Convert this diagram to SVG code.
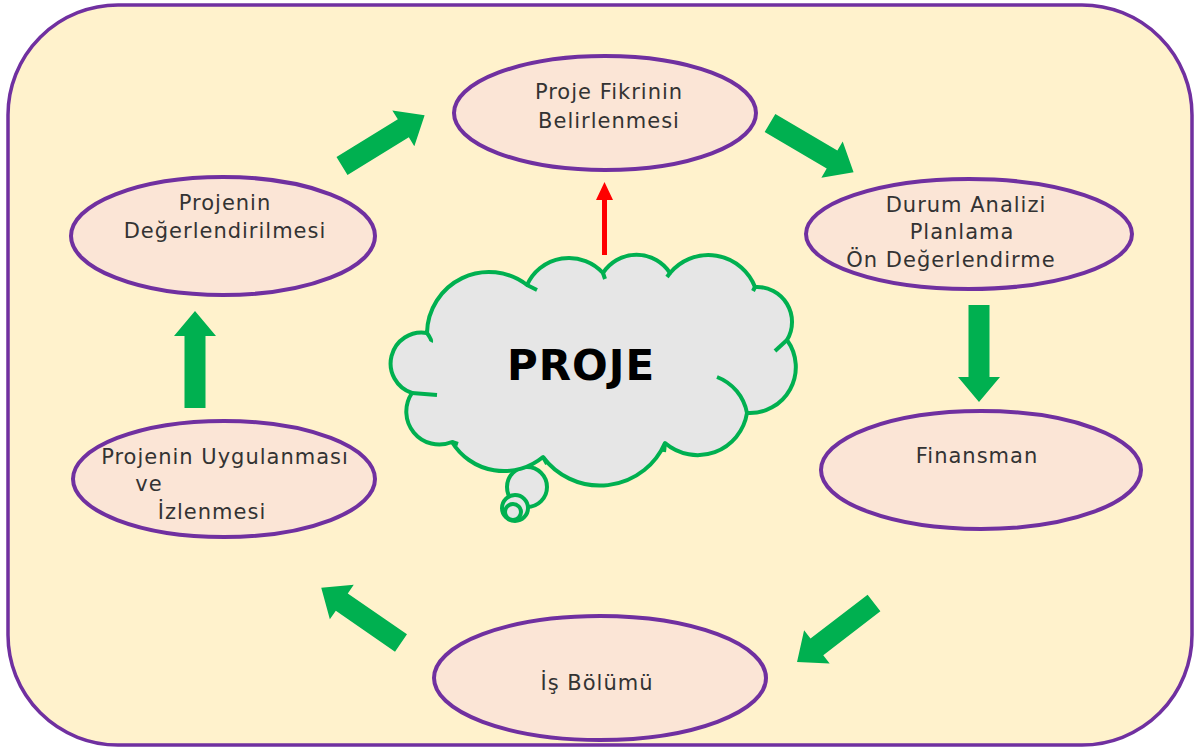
<svg xmlns="http://www.w3.org/2000/svg" width="1195" height="752" viewBox="0 0 1195 752">
<style>
.node ellipse{fill:#FBE5D6;stroke:#7030A0;stroke-width:4}
.lbl{font-family:"DejaVu Sans","Liberation Sans",sans-serif;font-size:21px;letter-spacing:1px;fill:#333333;text-anchor:middle}
.garrow{fill:#00B050}
.cloud{fill:#E6E6E6;stroke:#00B050;stroke-width:4;stroke-linejoin:round}
.hint{fill:none;stroke:#00B050;stroke-width:4;stroke-linecap:butt}
</style>
<defs>
<polygon id="blk" points="0,-10.5 72,-10.5 72,-21 97,0 72,21 72,10.5 0,10.5"/>
</defs>
<rect x="8" y="5" width="1184" height="740" rx="110" ry="110" fill="#FFF2CC" stroke="#7030A0" stroke-width="3.5"/>

<g id="cloud">
<circle class="cloud" cx="527" cy="487" r="20"/>
<circle class="cloud" cx="515" cy="508" r="13"/>
<circle class="cloud" cx="513" cy="512" r="8"/>
<path class="cloud" d="M427,333 A62,62 0 0 1 527,285 A46,46 0 0 1 603,273 A40,40 0 0 1 670,273 A50,50 0 0 1 755,287 A35,35 0 0 1 787,340 A46,46 0 0 1 747,413 A50,50 0 0 1 665,443 A71,71 0 0 1 543,457 A61,61 0 0 1 452,442 A33,33 0 0 1 412,393 A31,31 0 0 1 427,333 Z"/>
<path class="hint" d="M427,333 Q432,340 431,342"/>
<path class="hint" d="M527,285 L537,290"/>
<path class="hint" d="M603,273 L605,279"/>
<path class="hint" d="M670,273 L667,277"/>
<path class="hint" d="M755,287 L753,291"/>
<path class="hint" d="M787,340 L775,351"/>
<path class="hint" d="M717,377 A48,48 0 0 1 747,413"/>
<path class="hint" d="M665,443 L664,452"/>
<path class="hint" d="M543,457 L547,464"/>
<path class="hint" d="M452,442 L458,444"/>
<path class="hint" d="M412,393 L437,395"/>
<text x="581" y="380" style="font-family:'DejaVu Sans','Liberation Sans',sans-serif;font-size:42px;font-weight:bold;letter-spacing:1px;fill:#000000;text-anchor:middle">PROJE</text>
</g>

<g id="n1" class="node">
<ellipse cx="605" cy="113" rx="151" ry="57"/>
<text class="lbl" x="609" y="99">Proje Fikrinin</text>
<text class="lbl" x="609" y="128">Belirlenmesi</text>
</g>
<g id="n2" class="node">
<ellipse cx="969" cy="234" rx="163" ry="55"/>
<text class="lbl" x="966" y="212">Durum Analizi</text>
<text class="lbl" x="962" y="239">Planlama</text>
<text class="lbl" x="951" y="267">Ön Değerlendirme</text>
</g>
<g id="n3" class="node">
<ellipse cx="981" cy="470" rx="160" ry="59"/>
<text class="lbl" x="977" y="463">Finansman</text>
</g>
<g id="n4" class="node">
<ellipse cx="600" cy="678" rx="166" ry="62"/>
<text class="lbl" x="597" y="690">İş Bölümü</text>
</g>
<g id="n5" class="node">
<ellipse cx="224" cy="479" rx="151" ry="58"/>
<text class="lbl" x="225" y="464">Projenin Uygulanması</text>
<text class="lbl" x="149" y="491">ve</text>
<text class="lbl" x="212" y="519">İzlenmesi</text>
</g>
<g id="n6" class="node">
<ellipse cx="223" cy="236" rx="152" ry="59"/>
<text class="lbl" x="225" y="210">Projenin</text>
<text class="lbl" x="225" y="238">Değerlendirilmesi</text>
</g>

<g id="connectors">
<use href="#blk" class="garrow" transform="translate(342,166) rotate(-31.6)"/>
<use href="#blk" class="garrow" transform="translate(770,123) rotate(30.5)"/>
<use href="#blk" class="garrow" transform="translate(979,305) rotate(90)"/>
<use href="#blk" class="garrow" transform="translate(874,603) rotate(142.5)"/>
<use href="#blk" class="garrow" transform="translate(401,643) rotate(214.7)"/>
<use href="#blk" class="garrow" transform="translate(195,408) rotate(-90)"/>
<polygon fill="#FF0000" points="602,255 607,255 607,200 613,200 604.5,182 596,200 602,200"/>
</g>
</svg>
